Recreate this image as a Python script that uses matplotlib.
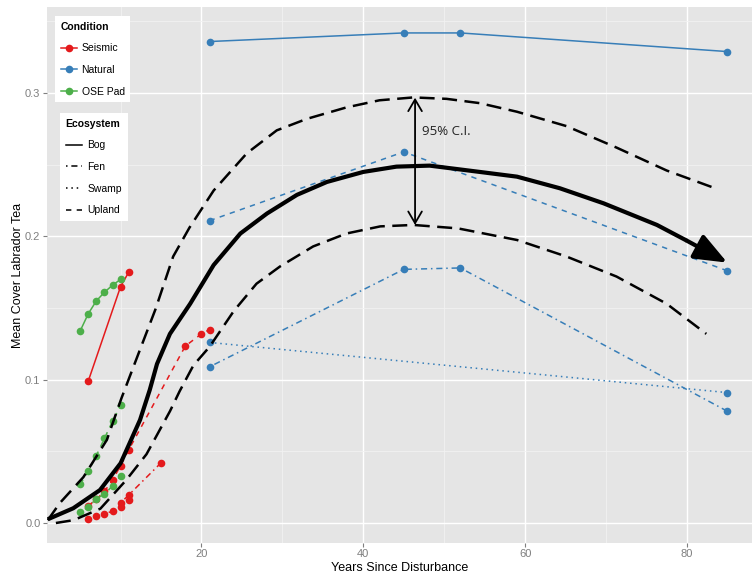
import matplotlib
matplotlib.use("Agg")
import matplotlib.pyplot as plt
from matplotlib.lines import Line2D

# --- data --------------------------------------------------------------
# Natural (blue)
nat_bog_x = [21, 45, 52, 85]
nat_bog_y = [0.336, 0.342, 0.342, 0.329]
nat_upland_x = [21, 45, 85]
nat_upland_y = [0.211, 0.259, 0.176]
nat_fen_x = [21, 45, 52, 85]
nat_fen_y = [0.109, 0.177, 0.178, 0.078]
nat_swamp_x = [21, 85]
nat_swamp_y = [0.126, 0.091]

# Seismic (red)
seis_bog_x = [6, 10, 11]
seis_bog_y = [0.099, 0.165, 0.175]
seis_upland_x = [6, 7, 8, 9, 10, 11, 18, 20, 21]
seis_upland_y = [0.012, 0.0165, 0.022, 0.030, 0.040, 0.051, 0.1235, 0.132, 0.135]
seis_fen_x = [10, 11, 15]
seis_fen_y = [0.014, 0.0195, 0.042]
seis_swamp_x = [6, 7, 8, 9, 10, 11]
seis_swamp_y = [0.003, 0.0047, 0.006, 0.0085, 0.011, 0.016]

# OSE Pad (green)
ose_bog_x = [5, 6, 7, 8, 9, 10]
ose_bog_y = [0.134, 0.146, 0.155, 0.161, 0.166, 0.170]
ose_upland_x = [5, 6, 7, 8, 9, 10]
ose_upland_y = [0.027, 0.036, 0.047, 0.059, 0.071, 0.082]
ose_fen_x = [5, 6, 7, 8, 9, 10]
ose_fen_y = [0.008, 0.011, 0.017, 0.020, 0.026, 0.033]

# model curve and its 95% C.I.
fit_x = [1.0, 4.15, 7.45, 10.0, 12.4, 13.6, 14.5, 16.1, 18.6, 21.5, 24.8, 28.1,
         31.8, 35.5, 40.0, 44.1, 48.2, 54.4, 59.0, 64.3, 69.7, 76.3, 80.0]
fit_y = [0.0026, 0.0103, 0.023, 0.0417, 0.0719, 0.0928, 0.111, 0.132, 0.153,
         0.180, 0.202, 0.216, 0.229, 0.238, 0.245, 0.2487, 0.2494, 0.245,
         0.2417, 0.2336, 0.2231, 0.208, 0.197]
arrow_tip = (85, 0.1817)
ci_up_x = [1.0, 2.5, 5.4, 8.3, 10.1, 12.4, 14.3, 16.5, 18.5, 21.5, 25.6, 29.3,
           33.0, 37.9, 42.0, 46.2, 50.3, 54.4, 59.0, 65.1, 71.3, 77.5, 83.3]
ci_up_y = [0.002, 0.014, 0.032, 0.058, 0.087, 0.121, 0.149, 0.186, 0.206, 0.232,
           0.258, 0.274, 0.282, 0.290, 0.295, 0.297, 0.296, 0.293, 0.287, 0.277,
           0.262, 0.246, 0.234]
ci_lo_x = [2.0, 4.2, 7.5, 10.7, 13.2, 16.1, 17.3, 19.0, 21.0, 24.0, 26.8, 29.7,
           33.8, 37.9, 42.1, 46.2, 51.7, 59.0, 65.1, 71.3, 77.5, 82.4]
ci_lo_y = [0.0, 0.002, 0.010, 0.030, 0.048, 0.078, 0.092, 0.110, 0.123, 0.148,
           0.167, 0.179, 0.193, 0.202, 0.207, 0.208, 0.2056, 0.1975, 0.186,
           0.172, 0.153, 0.132]
ci_bar_x = 46.4
ci_bar_y = (0.208, 0.2968)

x_ticks = [20, 40, 60, 80]
y_ticks = [0.0, 0.1, 0.2, 0.3]

# --- style ---------------------------------------------------------------
RED, BLUE, GREEN = "#E41A1C", "#377EB8", "#4DAF4A"
dash = {"Bog": "-", "Fen": (0, (1, 2.5, 4, 2.5)), "Swamp": (0, (1, 2.5)),
        "Upland": (0, (3.5, 3.5))}
plt.rcParams["font.family"] = ["Liberation Sans", "DejaVu Sans"]

fig = plt.figure(figsize=(7.52, 5.81), dpi=100)
ax = fig.add_axes([46.7 / 752, 38 / 581, (752 - 46.7) / 752, 536 / 581])
ax.set_facecolor("#E5E5E5")
for s in ax.spines.values():
    s.set_visible(False)

ax.set_xlim(0.865, 88.05)
ax.set_ylim(-0.01396, 0.3601)
ax.set_xticks(x_ticks)
ax.set_yticks(y_ticks)
ax.set_yticklabels(["0.0", "0.1", "0.2", "0.3"])
ax.set_xticks([10, 30, 50, 70], minor=True)
ax.set_yticks([0.05, 0.15, 0.25, 0.35], minor=True)
ax.grid(which="major", color="white", lw=1.0)
ax.grid(which="minor", color="#F2F2F2", lw=0.6)
ax.set_axisbelow(True)
ax.tick_params(which="major", length=3, color="#7F7F7F", labelcolor="#7F7F7F",
               labelsize=8, width=0.8, pad=1.5)
ax.tick_params(which="minor", length=0)

ax.set_xlabel("Years Since Disturbance", fontsize=9, labelpad=2)
ax.set_ylabel("Mean Cover Labrador Tea", fontsize=9, labelpad=1)

series = [
    (nat_bog_x, nat_bog_y, BLUE, "Bog"),
    (nat_upland_x, nat_upland_y, BLUE, "Upland"),
    (nat_fen_x, nat_fen_y, BLUE, "Fen"),
    (nat_swamp_x, nat_swamp_y, BLUE, "Swamp"),
    (seis_bog_x, seis_bog_y, RED, "Bog"),
    (seis_upland_x, seis_upland_y, RED, "Upland"),
    (seis_fen_x, seis_fen_y, RED, "Fen"),
    (seis_swamp_x, seis_swamp_y, RED, "Swamp"),
    (ose_bog_x, ose_bog_y, GREEN, "Bog"),
    (ose_upland_x, ose_upland_y, GREEN, "Upland"),
    (ose_fen_x, ose_fen_y, GREEN, "Fen"),
]
for xs, ys, col, eco in series:
    ax.plot(xs, ys, color=col, ls=dash[eco], lw=1.1, zorder=3)
    ax.plot(xs, ys, "o", color=col, ms=5.5, mec="none", zorder=4)

# model curve, C.I. bands and arrows
ax.plot(ci_up_x, ci_up_y, color="black", lw=1.8, ls=(0, (6, 3)), zorder=5)
ax.plot(ci_lo_x, ci_lo_y, color="black", lw=1.8, ls=(0, (6, 3)), zorder=5)
ax.plot(fit_x, fit_y, color="black", lw=3.0, solid_capstyle="butt", zorder=6)
ax.annotate("", xy=arrow_tip, xytext=(fit_x[-1], fit_y[-1]),
            arrowprops=dict(arrowstyle="-|>,head_length=2.0,head_width=0.8",
                            mutation_scale=10, lw=3.0, color="black",
                            shrinkA=0, shrinkB=0), zorder=6)
ax.annotate("", xy=(ci_bar_x, ci_bar_y[1]), xytext=(ci_bar_x, ci_bar_y[0]),
            arrowprops=dict(arrowstyle="<->,head_length=0.6,head_width=0.35",
                            mutation_scale=14, lw=1.3, color="black",
                            shrinkA=0, shrinkB=0), zorder=6)
ax.text(ci_bar_x + 0.9, 0.273, "95% C.I.", fontsize=9.5, va="center",
        ha="left", family=["Open Sans", "DejaVu Sans"], color="#222222")

# legends
leg_kw = dict(loc="upper left", bbox_transform=fig.transFigure, fontsize=7.5,
              title_fontproperties={"weight": "bold", "size": 7.5},
              alignment="left", frameon=True, fancybox=False,
              edgecolor="none", framealpha=1, borderaxespad=0,
              labelspacing=1.12, borderpad=0.55, handlelength=1.6)
cond_handles = [Line2D([], [], color=c, marker="o", ms=5.5, lw=1.1, mec="none")
                for c in (RED, BLUE, GREEN)]
leg1 = ax.legend(cond_handles, ["Seismic", "Natural", "OSE Pad"],
                 title="Condition", bbox_to_anchor=(55 / 752, 1 - 16 / 581),
                 handletextpad=0.4, **leg_kw)
ax.add_artist(leg1)
eco_handles = [Line2D([], [], color="black", lw=1.1, ls=dash[e])
               for e in ("Bog", "Fen", "Swamp", "Upland")]
ax.legend(eco_handles, ["Bog", "Fen", "Swamp", "Upland"], title="Ecosystem",
          bbox_to_anchor=(60 / 752, 1 - 113 / 581), handletextpad=0.5,
          **leg_kw)

fig.savefig("out.png", dpi=100)
